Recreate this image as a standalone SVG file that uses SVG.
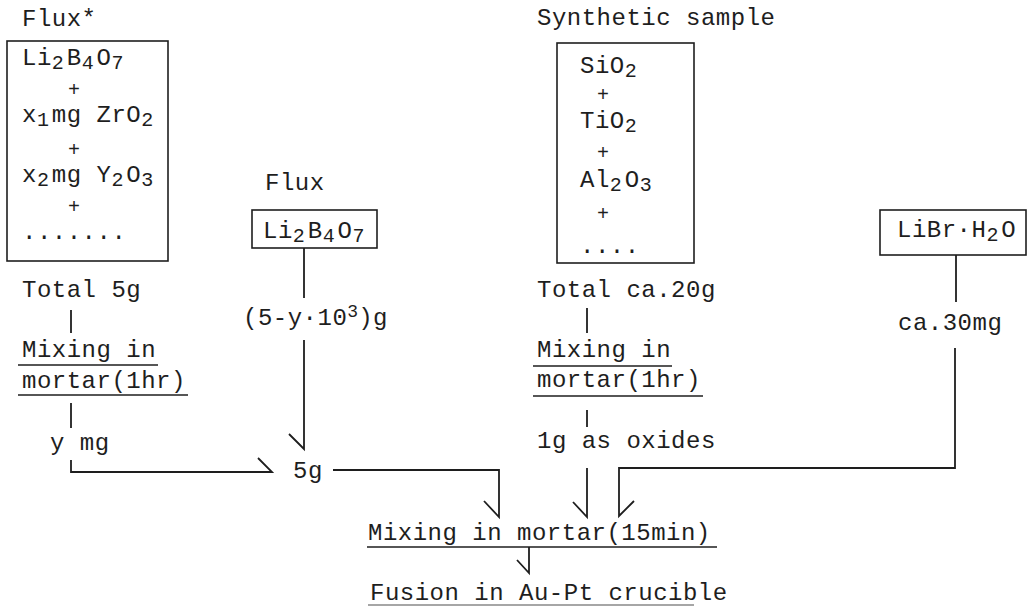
<svg xmlns="http://www.w3.org/2000/svg" width="1034" height="607" viewBox="0 0 1034 607">
<style>
text{font-family:"Liberation Mono","Courier New",monospace;font-size:24px;letter-spacing:0.5px;fill:#1e1e1e}
.sub{font-size:20px;letter-spacing:2.9px}
.sup{font-size:18px;letter-spacing:0px}
.plus{font-size:20px}
.box{fill:none;stroke:#1e1e1e;stroke-width:1.6}
.ln{fill:none;stroke:#1e1e1e;stroke-width:1.6}
.c{fill:none;stroke:#1e1e1e;stroke-width:1.8;stroke-linejoin:miter}
</style>
<rect width="1034" height="607" fill="#fff"/>
<g id="flux-star">
<text x="22" y="26">Flux*</text>
<rect class="box" x="7" y="41" width="161" height="220"/>
<text x="22" y="65">Li<tspan class="sub" dy="4">2</tspan><tspan dy="-4">B</tspan><tspan class="sub" dy="4">4</tspan><tspan dy="-4">O</tspan><tspan class="sub" dy="4">7</tspan></text>
<text class="plus" x="68" y="96">+</text>
<text x="22" y="122">x<tspan class="sub" dy="4">1</tspan><tspan dy="-4">mg ZrO</tspan><tspan class="sub" dy="4">2</tspan></text>
<text class="plus" x="68" y="156">+</text>
<text x="22" y="182">x<tspan class="sub" dy="4">2</tspan><tspan dy="-4">mg Y</tspan><tspan class="sub" dy="4">2</tspan><tspan dy="-4">O</tspan><tspan class="sub" dy="4">3</tspan></text>
<text class="plus" x="68" y="213">+</text>
<text x="22" y="239">.......</text>
</g>
<g id="total-5g">
<text x="22" y="297">Total 5g</text>
</g>
<g id="mixing-left">
<text x="22" y="357">Mixing in</text>
<line class="ln" x1="18" y1="365" x2="158" y2="365"/>
<text x="22" y="388">mortar(1hr)</text>
<line class="ln" x1="18" y1="395" x2="188" y2="395"/>
</g>
<g id="y-mg">
<text x="50" y="450">y mg</text>
</g>
<g id="flux">
<text x="265" y="190">Flux</text>
<rect class="box" x="252" y="210" width="125" height="38"/>
<text x="263" y="238">Li<tspan class="sub" dy="4">2</tspan><tspan dy="-4">B</tspan><tspan class="sub" dy="4">4</tspan><tspan dy="-4">O</tspan><tspan class="sub" dy="4">7</tspan></text>
</g>
<g id="flux-amount">
<text x="243" y="325">(5-y·10<tspan class="sup" dy="-8">3</tspan><tspan dy="8">)g</tspan></text>
</g>
<g id="five-g">
<text x="293" y="478">5g</text>
</g>
<g id="synthetic">
<text x="537" y="25">Synthetic sample</text>
<rect class="box" x="557" y="43" width="137" height="220"/>
<text x="580" y="73">SiO<tspan class="sub" dy="4">2</tspan></text>
<text class="plus" x="597" y="101">+</text>
<text x="580" y="128">TiO<tspan class="sub" dy="4">2</tspan></text>
<text class="plus" x="597" y="159">+</text>
<text x="580" y="187">Al<tspan class="sub" dy="4">2</tspan><tspan dy="-4">O</tspan><tspan class="sub" dy="4">3</tspan></text>
<text class="plus" x="597" y="220">+</text>
<text x="580" y="253">....</text>
</g>
<g id="total-20g">
<text x="537" y="297">Total ca.20g</text>
</g>
<g id="mixing-right">
<text x="537" y="357">Mixing in</text>
<line class="ln" x1="533" y1="366" x2="672" y2="366"/>
<text x="537" y="387">mortar(1hr)</text>
<line class="ln" x1="533" y1="396" x2="703" y2="396"/>
</g>
<g id="oxides">
<text x="537" y="448">1g as oxides</text>
</g>
<g id="libr">
<rect class="box" x="880" y="210" width="146" height="45"/>
<text x="897" y="237">LiBr·H<tspan class="sub" dy="4">2</tspan><tspan dy="-4">O</tspan></text>
</g>
<g id="libr-amount">
<text x="898" y="330">ca.30mg</text>
</g>
<g id="mixing-final">
<text x="368" y="540">Mixing in mortar(15min)</text>
<line class="ln" x1="367" y1="547" x2="717" y2="547"/>
</g>
<g id="fusion">
<text x="370" y="600">Fusion in Au-Pt crucible</text>
<line x1="368" y1="605" x2="694" y2="605" stroke="#888" stroke-width="1.4"/>
</g>
<g id="connectors">
<polyline class="c" points="71,310 71,333"/>
<polyline class="c" points="71,403 71,428"/>
<polyline class="c" points="71,460 71,472 272,472 258,458"/>
<polyline class="c" points="304,248 304,298"/>
<polyline class="c" points="304,340 304,449 289,434"/>
<polyline class="c" points="333,470 499,470 499,517 484,501"/>
<polyline class="c" points="587,308 587,333"/>
<polyline class="c" points="587,410 587,427"/>
<polyline class="c" points="587,468 587,517 573,502"/>
<polyline class="c" points="956,255 956,302"/>
<polyline class="c" points="955,348 955,468 619,468 619,516 634,501"/>
<polyline class="c" points="529,547 529,573 517,560"/>
</g>
</svg>
